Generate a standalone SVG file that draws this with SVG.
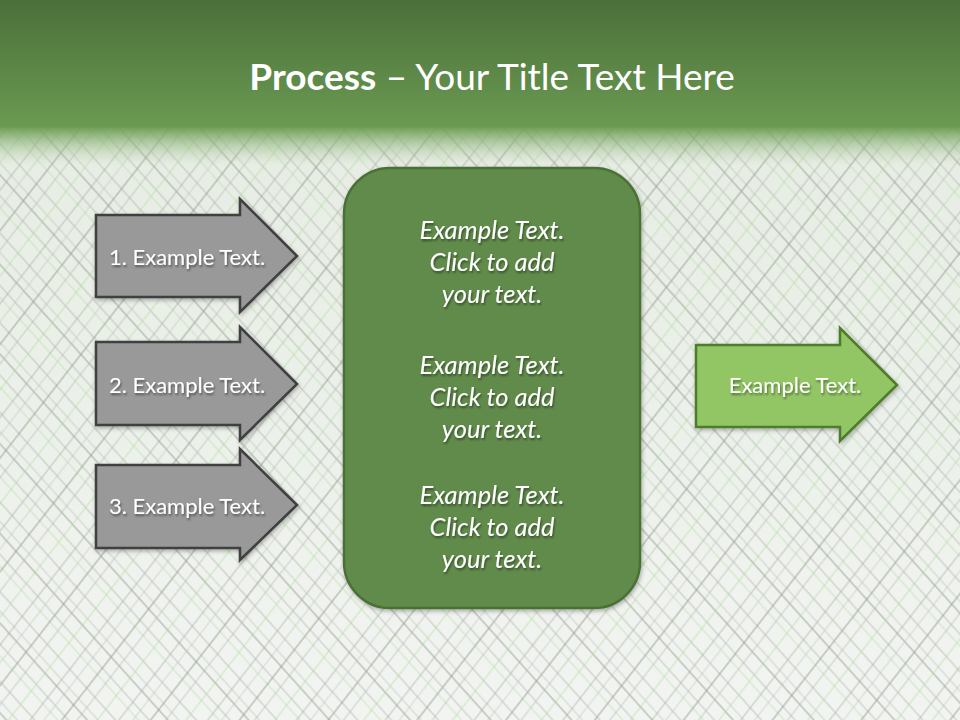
<svg xmlns="http://www.w3.org/2000/svg" width="960" height="720" viewBox="0 0 960 720">
<defs>
<linearGradient id="bg" x1="0" y1="0" x2="0" y2="1">
<stop offset="0" stop-color="#e4ebe1"/>
<stop offset="1" stop-color="#f2f4f1"/>
</linearGradient>
<linearGradient id="band" x1="0" y1="0" x2="0" y2="1">
<stop offset="0" stop-color="#4b6f39"/>
<stop offset="0.76" stop-color="#6a9a52"/>
<stop offset="0.8" stop-color="#78a660" stop-opacity="0.85"/>
<stop offset="1" stop-color="#c0d6b4" stop-opacity="0"/>
</linearGradient>
<pattern id="hatchA" width="60" height="60" patternUnits="userSpaceOnUse" patternTransform="rotate(-42)">
<line x1="3" y1="0" x2="3" y2="60" stroke="#97a393" stroke-width="2" stroke-opacity="0.45"/>
<line x1="11" y1="0" x2="11" y2="60" stroke="#b4beb0" stroke-width="1.2" stroke-opacity="0.5"/>
<line x1="24" y1="0" x2="24" y2="60" stroke="#a2ad9e" stroke-width="1.6" stroke-opacity="0.4"/>
<line x1="41" y1="0" x2="41" y2="60" stroke="#b0dca0" stroke-width="1.2" stroke-opacity="0.5"/>
<line x1="49" y1="0" x2="49" y2="60" stroke="#9aa596" stroke-width="1.4" stroke-opacity="0.4"/>
</pattern>
<pattern id="hatchB" width="70" height="70" patternUnits="userSpaceOnUse" patternTransform="rotate(38)">
<line x1="2" y1="0" x2="2" y2="70" stroke="#95a191" stroke-width="2" stroke-opacity="0.45"/>
<line x1="14" y1="0" x2="14" y2="70" stroke="#aab5a6" stroke-width="1.3" stroke-opacity="0.45"/>
<line x1="30" y1="0" x2="30" y2="70" stroke="#a8dc95" stroke-width="1.2" stroke-opacity="0.5"/>
<line x1="47" y1="0" x2="47" y2="70" stroke="#9ea99a" stroke-width="1.6" stroke-opacity="0.4"/>
<line x1="58" y1="0" x2="58" y2="70" stroke="#b7c1b3" stroke-width="1.2" stroke-opacity="0.45"/>
</pattern>
<filter id="ts" x="-10%" y="-30%" width="120%" height="160%">
<feDropShadow dx="1" dy="2" stdDeviation="1.2" flood-color="#000" flood-opacity="0.45"/>
</filter>
<filter id="ss" x="-10%" y="-10%" width="120%" height="120%">
<feDropShadow dx="1" dy="2" stdDeviation="2" flood-color="#000" flood-opacity="0.3"/>
</filter>
</defs>
<style>
.garrow{fill:#999999;stroke:#3f3f3f;stroke-width:2.5;stroke-linejoin:miter}
.larrow{fill:#92c665;stroke:#4e7b2c;stroke-width:2.5}
.lbl{font-family:Lato,"Liberation Sans",sans-serif;font-size:22px;fill:#ffffff;text-anchor:middle;dominant-baseline:central}
.box{font-family:Lato,"Liberation Sans",sans-serif;font-size:25.5px;font-style:italic;fill:#ffffff;text-anchor:middle;dominant-baseline:central}
</style>
<rect width="960" height="720" fill="url(#bg)"/>
<rect width="960" height="720" fill="url(#hatchA)"/>
<rect width="960" height="720" fill="url(#hatchB)"/>
<rect width="960" height="166" fill="url(#band)"/>
<text x="492" y="75" font-family="Lato,'Liberation Sans',sans-serif" font-size="37" fill="#ffffff" text-anchor="middle" dominant-baseline="central"><tspan font-weight="bold">Process</tspan> – Your Title Text Here</text>
<g id="connectors"></g>
<g id="step1" filter="url(#ss)">
<path class="garrow" d="M96,215 H240 V199 L297,256 L240,312 V297 H96 Z"/>
<text class="lbl" x="187" y="256" filter="url(#ts)">1. Example Text.</text>
</g>
<g id="step2" filter="url(#ss)">
<path class="garrow" d="M96,342 H240 V327 L297,384 L240,440 V425 H96 Z"/>
<text class="lbl" x="187" y="384" filter="url(#ts)">2. Example Text.</text>
</g>
<g id="step3" filter="url(#ss)">
<path class="garrow" d="M96,465 H240 V449 L297,505 L240,560 V548 H96 Z"/>
<text class="lbl" x="187" y="505" filter="url(#ts)">3. Example Text.</text>
</g>
<g id="center" filter="url(#ss)">
<rect x="344" y="168" width="296" height="440" rx="46" ry="46" fill="#618b4b" stroke="#4a7036" stroke-width="2.5"/>
<g filter="url(#ts)">
<text class="box" x="492" y="229">Example Text.</text>
<text class="box" x="492" y="261">Click  to add</text>
<text class="box" x="492" y="293">your text.</text>
<text class="box" x="492" y="364">Example Text.</text>
<text class="box" x="492" y="396">Click  to add</text>
<text class="box" x="492" y="428">your text.</text>
<text class="box" x="492" y="494">Example Text.</text>
<text class="box" x="492" y="526">Click  to add</text>
<text class="box" x="492" y="558">your text.</text>
</g>
</g>
<g id="result" filter="url(#ss)">
<path class="larrow" d="M696,345 H840 V328 L897,385 L840,441 V427 H696 Z"/>
<text class="lbl" x="795" y="384" font-size="20.5" filter="url(#ts)">Example Text.</text>
</g>
</svg>
